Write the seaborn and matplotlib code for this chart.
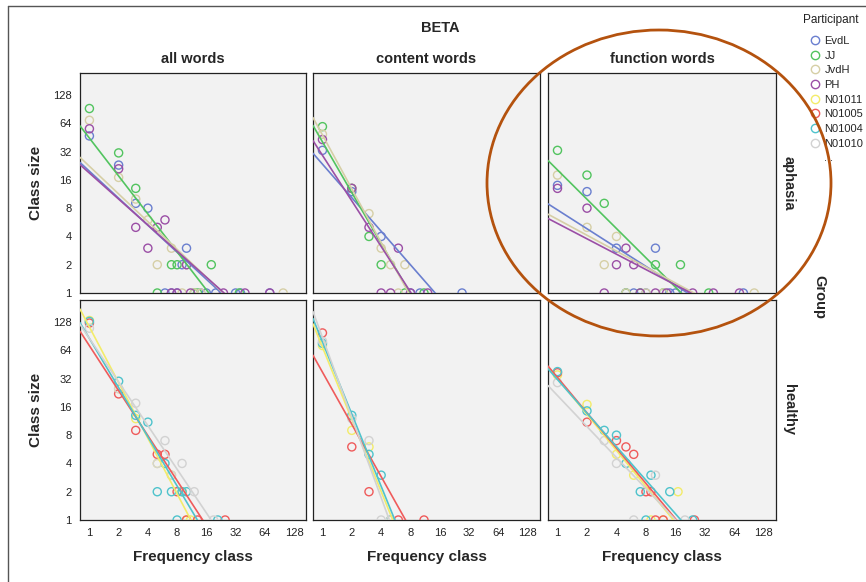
import numpy as np
import pandas as pd
import matplotlib
matplotlib.use("Agg")
import matplotlib.pyplot as plt
import seaborn as sns
from matplotlib.patches import Ellipse
from matplotlib.lines import Line2D

# ---------------- data ----------------
participants = ["EvdL", "JJ", "JvdH", "PH", "N01011", "N01005", "N01004", "N01010"]
colors = ["#6a7fcf", "#52c45f", "#d6cfa6", "#9b4fa6", "#f3ec6a", "#ef5b5b", "#4fc3cc", "#d2d2d2"]
groups = ["aphasia", "healthy"]
word_types = ["all words", "content words", "function words"]
tick_values = [1, 2, 4, 8, 16, 32, 64, 128]

# (frequency class, class size) per participant
aphasia_all = {
    "EvdL": ([1, 2, 3, 4, 9, 10, 6, 7, 8, 14, 16, 20, 32, 36, 72],
             [47, 23, 9, 8, 2, 3, 1, 1, 1, 1, 1, 1, 1, 1, 1]),
    "JJ": ([1, 2, 3, 7, 8, 18, 5, 12, 13, 35], [92, 31, 13, 2, 2, 2, 1, 1, 1, 1]),
    "JvdH": ([1, 2, 3, 4, 5, 7, 10, 9, 12, 14, 99], [69, 17, 10, 6, 2, 3, 2, 1, 1, 1, 1]),
    "PH": ([1, 2, 3, 4, 5, 6, 10, 7, 8, 11, 24, 40, 72], [56, 21, 5, 3, 5, 6, 2, 1, 1, 1, 1, 1, 1]),
}
aphasia_content = {
    "EvdL": ([1, 2, 4, 8, 10, 27], [33, 12, 4, 1, 1, 1]),
    "JJ": ([1, 2, 3, 4, 7, 11], [59, 13, 4, 2, 1, 1]),
    "JvdH": ([1, 2, 3, 4, 5, 7, 6], [49, 13, 7, 3, 2, 2, 1]),
    "PH": ([1, 2, 3, 6, 4, 5, 8, 12], [43, 13, 5, 3, 1, 1, 1, 1]),
}
aphasia_function = {
    "EvdL": ([1, 2, 4, 10, 14, 16, 79, 5, 8, 20, 6], [14, 12, 3, 3, 1, 1, 1, 1, 1, 1, 1]),
    "JJ": ([1, 2, 3, 10, 18, 5, 12, 35, 7], [33, 18, 9, 2, 2, 1, 1, 1, 1]),
    "JvdH": ([1, 2, 3, 4, 8, 102, 5, 12], [18, 5, 2, 4, 1, 1, 1, 1]),
    "PH": ([1, 2, 4, 5, 6, 3, 7, 10, 13, 24, 39, 72], [13, 8, 2, 3, 2, 1, 1, 1, 1, 1, 1, 1]),
}
healthy_all = {
    "N01011": ([1, 2, 3, 5, 7, 9, 10, 11], [133, 25, 12, 4, 3, 2, 1, 1]),
    "N01005": ([1, 2, 3, 5, 6, 8, 10, 13, 25], [125, 22, 9, 5, 5, 2, 1, 1, 1]),
    "N01004": ([1, 2, 3, 4, 5, 6, 7, 9, 10, 8, 21], [130, 30, 13, 11, 2, 4, 2, 2, 2, 1, 1]),
    "N01010": ([1, 2, 3, 5, 6, 7, 9, 12, 19], [110, 25, 17.5, 4, 7, 3, 4, 2, 1]),
}
healthy_content = {
    "N01011": ([1, 2, 3, 5], [72, 9, 6, 1]),
    "N01005": ([1, 2, 3, 6, 11], [98, 6, 2, 1, 1]),
    "N01004": ([1, 2, 3, 4, 5], [76, 13, 5, 3, 1]),
    "N01010": ([1, 2, 3, 4, 5], [80, 12, 7, 1, 1]),
}
healthy_function = {
    "N01011": ([1, 2, 4, 6, 17, 9, 12], [35, 17, 5, 3, 2, 1, 1]),
    "N01005": ([1, 2, 4, 5, 6, 8, 9, 10, 12, 25], [37, 11, 7, 6, 5, 2, 2, 1, 1, 1]),
    "N01004": ([1, 2, 3, 4, 5, 9, 7, 14, 8, 24], [38, 14.5, 9, 8, 4, 3, 2, 2, 1, 1]),
    "N01010": ([1, 3, 4, 10, 6, 20], [29, 7, 4, 3, 1, 1]),
}

panels = {
    ("aphasia", "all words"): aphasia_all,
    ("aphasia", "content words"): aphasia_content,
    ("aphasia", "function words"): aphasia_function,
    ("healthy", "all words"): healthy_all,
    ("healthy", "content words"): healthy_content,
    ("healthy", "function words"): healthy_function,
}

rows = []
for (g, w), d in panels.items():
    for p, (xs, ys) in d.items():
        for x, y in zip(xs, ys):
            rows.append(dict(Group=g, Words=w, Participant=p, freq=x, size=y))
df = pd.DataFrame(rows)
df["lfreq"] = np.log2(df["freq"])
df["lsize"] = np.log2(df["size"])
palette = dict(zip(participants, colors))

# ---------------- figure ----------------
sns.set_style("white")
plt.rcParams["font.family"] = ["Liberation Sans", "DejaVu Sans"]

W, H = 866, 582
fig = plt.figure(figsize=(W / 100, H / 100), dpi=100)

col_px = [(80, 306), (313, 540), (548, 776)]
row_px = [(73, 293), (300, 520)]
xlim = (np.log2(0.8), 7.41)
ylim = (0, 7.78)
ticks = np.log2(tick_values)

for ri, g in enumerate(groups):
    for ci, w in enumerate(word_types):
        x0, x1 = col_px[ci]
        y0, y1 = row_px[ri]
        ax = fig.add_axes([x0 / W, 1 - y1 / H, (x1 - x0) / W, (y1 - y0) / H])
        ax.set_facecolor("#f2f2f2")
        ax.set_xlim(*xlim)
        ax.set_ylim(*ylim)
        sub = df[(df.Group == g) & (df.Words == w)]
        for p in participants:
            s = sub[sub.Participant == p]
            if s.empty:
                continue
            c = palette[p]
            sns.scatterplot(data=s, x="lfreq", y="lsize", ax=ax, color=c,
                            facecolor="none", edgecolor=c, linewidth=1.0, s=34,
                            zorder=3)
        for p in participants:
            s = sub[sub.Participant == p]
            if s.empty:
                continue
            sns.regplot(data=s, x="lfreq", y="lsize", ax=ax, scatter=False, ci=None,
                        truncate=False, line_kws=dict(color=palette[p], lw=1.2, zorder=4))
        ax.set_xlim(*xlim)
        ax.set_ylim(*ylim)
        ax.set_xlabel("")
        ax.set_ylabel("")
        for sp in ax.spines.values():
            sp.set_color("#222222")
            sp.set_linewidth(0.9)
        if ri == 1:
            ax.set_xticks(ticks)
            ax.set_xticklabels([str(t) for t in tick_values])
        else:
            ax.set_xticks([])
        if ci == 0:
            ax.set_yticks(ticks)
            ax.set_yticklabels([str(t) for t in tick_values])
        else:
            ax.set_yticks([])
        ax.tick_params(direction="out", length=4, width=0.9, color="#333333",
                       labelsize=8, pad=2, labelcolor="#222222")

# titles and labels
fig.text(440 / W, 1 - 28 / H, "BETA", ha="center", va="center", fontsize=10.5, fontweight="bold")
for ci, w in enumerate(word_types):
    cx = (col_px[ci][0] + col_px[ci][1]) / 2
    fig.text(cx / W, 1 - 59 / H, w, ha="center", va="center", fontsize=10.5, fontweight="bold")
    fig.text(cx / W, 1 - 557 / H, "Frequency class", ha="center", va="center",
             fontsize=11, fontweight="bold")
for ri, g in enumerate(groups):
    cy = (row_px[ri][0] + row_px[ri][1]) / 2
    fig.text(36 / W, 1 - cy / H, "Class size", ha="center", va="center", rotation=90,
             fontsize=11, fontweight="bold")
    fig.text(789 / W, 1 - cy / H, g, ha="center", va="center", rotation=-90,
             fontsize=10.5, fontweight="bold")
fig.text(819 / W, 1 - 297 / H, "Group", ha="center", va="center", rotation=-90,
         fontsize=10.5, fontweight="bold")

# legend
handles = [Line2D([], [], marker="o", ls="none", mfc="none", mec=palette[p], mew=1.0, ms=6)
           for p in participants]
handles.append(Line2D([], [], ls="none"))
labels = participants + ["..."]
fig.text(831 / W, 1 - 20 / H, "Participant", ha="center", va="center", fontsize=8.5, color="#222222")
fig.legend(handles, labels, loc="upper left", bbox_to_anchor=(811 / W, 1 - 36 / H),
           frameon=False, fontsize=8, handlelength=0.7, handletextpad=0.5,
           labelspacing=0.42, borderaxespad=0, borderpad=0)

# frame lines
fig.add_artist(Line2D([8 / W, 1], [1 - 6 / H, 1 - 6 / H], transform=fig.transFigure,
                      color="#555555", lw=1.0))
fig.add_artist(Line2D([8 / W, 8 / W], [0, 1 - 6 / H], transform=fig.transFigure,
                      color="#555555", lw=1.0))

# hand-drawn highlight ellipse
fig.add_artist(Ellipse((659 / W, 1 - 183 / H), 344 / W, 306 / H, transform=fig.transFigure,
                       fill=False, edgecolor="#b4520e", lw=2.0, zorder=20))

fig.savefig("out.png", dpi=100)
